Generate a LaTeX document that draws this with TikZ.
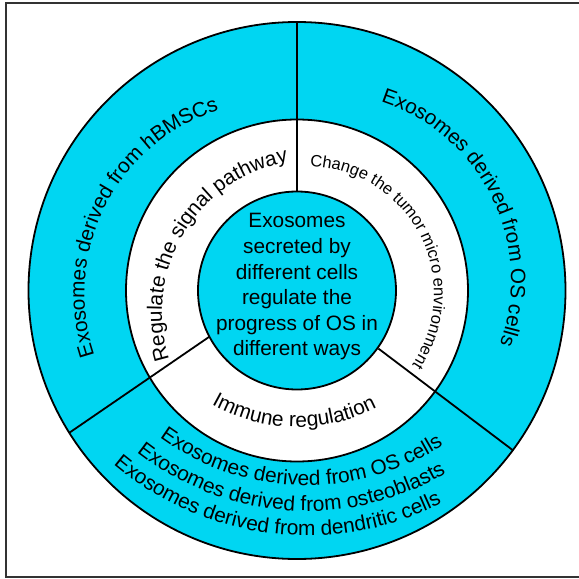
\documentclass[tikz,border=0pt]{standalone}
\usepackage{fontspec}
\setmainfont{Liberation Sans}
\usetikzlibrary{decorations.text}

\definecolor{ringcyan}{RGB}{0,214,242}
\newcommand{\ringfont}{\fontsize{20.8}{25.6}\selectfont}
\newcommand{\smallringfont}{\fontsize{16.5}{20}\selectfont}

\begin{document}
\begin{tikzpicture}[x=1pt, y=1pt,
    ring/.style={draw=black, line width=1.8pt},
    divider/.style={draw=black, line width=1.8pt},
    arctext/.style={decorate, decoration={text along path, text align=center, text={#1}}}]
    \useasboundingbox (-297,-288.5) rectangle (282,290.5);

    % Frame (open on the right)
    \draw[line width=1.2pt, black!80] (285,287.5) -- (-291,287.5) -- (-291,-286.5) -- (285,-286.5);

    % Draw the rings
    \filldraw[ring, fill=ringcyan] (0,0) circle (268.5);
    \filldraw[ring, fill=white] (0,0) circle (171);
    \filldraw[ring, fill=ringcyan] (0,0) circle (99);

    % Sector borders
    \draw[divider] (90:99) -- (90:268.5);
    \draw[divider] (207.8:99) -- (212:268.5);
    \draw[divider] (324.5:100) -- (323.5:268.5);

    % Centre text
    \node[align=center, font=\ringfont] (core) at (0,3.5)
        {Exosomes\\secreted by\\different cells\\regulate the\\progress of OS in\\different ways};

    % Outer ring texts
    \path[arctext={|\ringfont|Exosomes derived from hBMSCs}]
        (-20,-3) ++(213.1:192.5) arc[start angle=213.1, end angle=93.1, radius=192.5];
    \path[arctext={|\ringfont|Exosomes derived from OS cells}]
        (26,10) ++(86.15:188) arc[start angle=86.15, end angle=-33.85, radius=188];

    % Bottom sector, three lines on one arch
    \path[arctext={|\ringfont|Exosomes derived from OS cells}]
        (10,55) ++(208.5:250) arc[start angle=208.5, end angle=328.5, radius=250];
    \path[arctext={|\ringfont|Exosomes derived from osteoblasts}]
        (10,55) ++(206.1:275.5) arc[start angle=206.1, end angle=326.1, radius=275.5];
    \path[arctext={|\ringfont|Exosomes derived from dendritic cells}]
        (10,55) ++(203.3:300) arc[start angle=203.3, end angle=323.3, radius=300];

    % Inner ring texts
    \path[arctext={|\ringfont|Regulate the signal pathway}]
        (18,-22) ++(219:153) arc[start angle=219, end angle=79, radius=153];
    \path[arctext={|\smallringfont|Change the tumor micro environment}]
        (10,-3) ++(97.2:127) arc[start angle=97.2, end angle=-42.8, radius=127];
    \path[arctext={|\ringfont|Immune regulation}]
        (0,37.5) ++(209:174) arc[start angle=209, end angle=329, radius=174];
\end{tikzpicture}
\end{document}
